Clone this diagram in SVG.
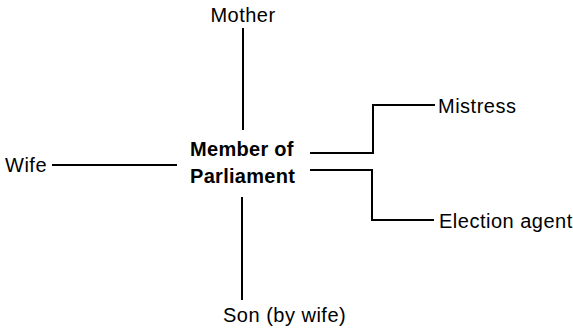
<svg xmlns="http://www.w3.org/2000/svg" width="573" height="328" viewBox="0 0 573 328">
<style>
.t{font-family:"Liberation Sans",Arial,sans-serif;font-size:20px;letter-spacing:0.5px;fill:#000}
.b{font-weight:bold;letter-spacing:0.3px}
.c{fill:none;stroke:#000;stroke-width:2}
</style>
<rect width="573" height="328" fill="#fff"/>
<g id="connectors">
<line class="c" x1="243" y1="28" x2="243" y2="130"/>
<line class="c" x1="242" y1="197" x2="242" y2="300"/>
<line class="c" x1="52" y1="165" x2="177" y2="165"/>
<polyline class="c" points="310,153 373,153 373,105 435,105"/>
<polyline class="c" points="310,170 372,170 372,220 434,220"/>
</g>
<g id="mp"><text class="t b" x="190" y="156">Member of</text><text class="t b" x="190" y="183">Parliament</text></g>
<g id="mother"><text class="t" x="243" y="22" text-anchor="middle">Mother</text></g>
<g id="wife"><text class="t" x="5" y="172">Wife</text></g>
<g id="mistress"><text class="t" x="438" y="113">Mistress</text></g>
<g id="agent"><text class="t" x="439" y="228">Election agent</text></g>
<g id="son"><text class="t" x="223" y="322">Son (by wife)</text></g>
</svg>
